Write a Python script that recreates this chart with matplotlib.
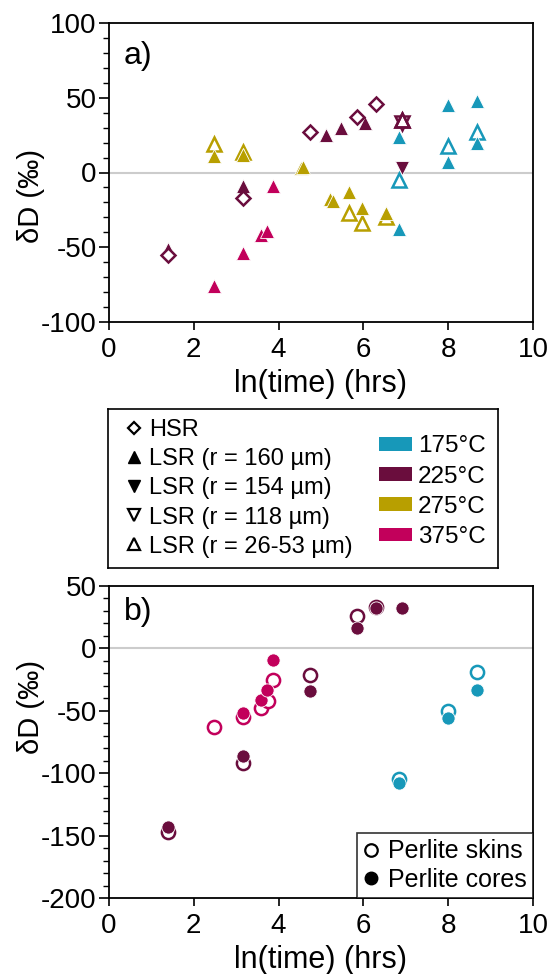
import numpy as np
import matplotlib
matplotlib.use('Agg')
import matplotlib.pyplot as plt
from matplotlib.lines import Line2D
from matplotlib.patches import Patch
from matplotlib.ticker import MultipleLocator

plt.rcParams['font.family'] = ['Liberation Sans', 'DejaVu Sans']
plt.rcParams['axes.unicode_minus'] = False

#temperature colours
temps = ['175°C', '225°C', '275°C', '375°C']
cols = {'175°C': '#1798b9', '225°C': '#6a0d3d', '275°C': '#b89f00', '375°C': '#c2005b'}

#panel a) HSR (open diamonds), all 225
hsr_225_x = [1.38, 3.16, 4.75, 5.86, 6.29]
hsr_225_y = [-55, -17, 27, 37, 46]

#LSR r = 160 um (filled up triangles)
lsr160_175_x = [6.84, 6.84, 8.0, 8.0, 8.69, 8.69]
lsr160_175_y = [24, -38, 45, 7, 48, 20]
lsr160_225_x = [1.38, 3.16, 5.11, 5.47, 6.03]
lsr160_225_y = [-51, -9, 25, 30, 33]
lsr160_275_x = [2.48, 3.16, 4.52, 4.58, 5.22, 5.28, 5.66, 5.96, 6.53]
lsr160_275_y = [11, 12, 3, 4, -18, -19, -13, -24, -27]
lsr160_375_x = [2.48, 3.16, 3.58, 3.73, 3.86]
lsr160_375_y = [-76, -54, -42, -39, -9]

#LSR r = 154 um (filled down triangle)
lsr154_225_x = [6.91]
lsr154_225_y = [3]

#LSR r = 118 um (open down triangle)
lsr118_225_x = [6.9]
lsr118_225_y = [33]

#LSR r = 26-53 um (open up triangles)
lsr2653_175_x = [6.84, 8.0, 8.69]
lsr2653_175_y = [-5, 18, 27]
lsr2653_225_x = [6.9]
lsr2653_225_y = [35]
lsr2653_275_x = [2.48, 3.16, 5.66, 5.96, 6.53]
lsr2653_275_y = [19, 14, -27, -34, -30]

#panel b) perlite skins (open) and cores (filled)
skin_175_x = [6.84, 8.0, 8.69]
skin_175_y = [-105, -50, -19]
skin_225_x = [1.38, 3.16, 4.75, 5.86, 6.29]
skin_225_y = [-147, -92, -21, 26, 33]
skin_375_x = [2.48, 3.16, 3.58, 3.75, 3.86]
skin_375_y = [-63, -55, -48, -42, -25]

core_175_x = [6.84, 8.0, 8.69]
core_175_y = [-108, -56, -33]
core_225_x = [1.38, 3.16, 4.75, 5.86, 6.29, 6.91]
core_225_y = [-143, -86, -34, 16, 32, 32]
core_375_x = [3.16, 3.58, 3.73, 3.86]
core_375_y = [-52, -41, -33, -9]

fig = plt.figure(figsize=(5.53, 9.74), dpi=100)
W, H = 553.0, 974.0
ax1 = fig.add_axes([109/W, 1-322/H, 424/W, 299/H])
ax2 = fig.add_axes([109/W, 1-898/H, 424/W, 312/H])

ms = 9.5

def filled(ax, x, y, m, c, s=ms):
    ax.plot(x, y, ls='none', marker=m, ms=s, color=c, mec='white', mew=0.6)

def hollow(ax, x, y, m, c, s=ms):
    ax.plot(x, y, ls='none', marker=m, ms=s, mfc='white', mec=c, mew=1.8)

# panel a
ax1.axhline(0, color='#cccccc', lw=1.5, zorder=0)
hollow(ax1, lsr2653_275_x, lsr2653_275_y, '^', cols['275°C'], ms+1)
hollow(ax1, lsr2653_175_x, lsr2653_175_y, '^', cols['175°C'], ms+1)
filled(ax1, lsr160_175_x, lsr160_175_y, '^', cols['175°C'])
filled(ax1, lsr160_225_x, lsr160_225_y, '^', cols['225°C'])
filled(ax1, lsr160_275_x, lsr160_275_y, '^', cols['275°C'])
filled(ax1, lsr160_375_x, lsr160_375_y, '^', cols['375°C'])
filled(ax1, lsr154_225_x, lsr154_225_y, 'v', cols['225°C'])
hollow(ax1, lsr118_225_x, lsr118_225_y, 'v', cols['225°C'])
hollow(ax1, lsr2653_225_x, lsr2653_225_y, '^', cols['225°C'])
ax1.plot(lsr2653_225_x, lsr2653_225_y, ls='none', marker='^', ms=ms, mfc='none', mec=cols['225°C'], mew=1.8)
hollow(ax1, hsr_225_x, hsr_225_y, 'D', cols['225°C'], 7.5)

ax1.set_xlim(0, 10)
ax1.set_ylim(-100, 100)
ax1.yaxis.set_major_locator(MultipleLocator(50))
ax1.yaxis.set_minor_locator(MultipleLocator(10))
ax1.text(0.035, 0.94, 'a)', transform=ax1.transAxes, fontsize=23, va='top')
ax1.set_ylabel('δD (‰)', fontsize=21)
ax1.yaxis.set_label_coords(-0.151, 0.42)
ax1.set_xlabel('ln(time) (hrs)', fontsize=22, labelpad=4)

# panel b
ax2.axhline(0, color='#cccccc', lw=1.5, zorder=0)
hollow(ax2, skin_225_x, skin_225_y, 'o', cols['225°C'])
hollow(ax2, skin_375_x, skin_375_y, 'o', cols['375°C'])
hollow(ax2, skin_175_x, skin_175_y, 'o', cols['175°C'])
filled(ax2, core_225_x, core_225_y, 'o', cols['225°C'])
filled(ax2, core_375_x, core_375_y, 'o', cols['375°C'])
filled(ax2, core_175_x, core_175_y, 'o', cols['175°C'])

ax2.set_xlim(0, 10)
ax2.set_ylim(-200, 50)
ax2.yaxis.set_major_locator(MultipleLocator(50))
ax2.yaxis.set_minor_locator(MultipleLocator(10))
ax2.text(0.035, 0.965, 'b)', transform=ax2.transAxes, fontsize=23, va='top')
ax2.set_ylabel('δD (‰)', fontsize=21)
ax2.yaxis.set_label_coords(-0.151, 0.612)
ax2.set_xlabel('ln(time) (hrs)', fontsize=22, labelpad=4)

b_handles = [Line2D([], [], ls='none', marker='o', ms=9, mfc='white', mec='black', mew=1.6),
             Line2D([], [], ls='none', marker='o', ms=9, color='black')]
lg = ax2.legend(b_handles, ['Perlite skins', 'Perlite cores'], loc='lower right',
                fontsize=18, frameon=True, fancybox=False, borderaxespad=0,
                handlelength=0.6, handletextpad=0.4, labelspacing=0.18, borderpad=0.25)
lg.get_frame().set_edgecolor('black')
lg.get_frame().set_linewidth(1.2)

for ax in (ax1, ax2):
    ax.xaxis.set_major_locator(MultipleLocator(2))
    ax.tick_params(axis='both', which='major', direction='out', length=6, width=1.2, labelsize=20, pad=2)
    ax.tick_params(axis='x', which='major', pad=5)
    ax.tick_params(axis='y', which='minor', direction='out', length=4, width=1.0)
    ax.tick_params(axis='y', which='major', length=7)
    for s in ax.spines.values():
        s.set_linewidth(1.3)

# shared legend box between panels
axl = fig.add_axes([108/W, 1-568/H, 390/W, 159/H])
axl.set_xticks([])
axl.set_yticks([])
for s in axl.spines.values():
    s.set_linewidth(1.2)
m_handles = [Line2D([], [], ls='none', marker='D', ms=6, mfc='white', mec='black', mew=1.6),
             Line2D([], [], ls='none', marker='^', ms=8, color='black'),
             Line2D([], [], ls='none', marker='v', ms=8, color='black'),
             Line2D([], [], ls='none', marker='v', ms=8, mfc='white', mec='black', mew=1.6),
             Line2D([], [], ls='none', marker='^', ms=8, mfc='white', mec='black', mew=1.6)]
m_labels = ['HSR', 'LSR (r = 160 µm)', 'LSR (r = 154 µm)', 'LSR (r = 118 µm)', 'LSR (r = 26-53 µm)']
lg1 = axl.legend(m_handles, m_labels, loc='center left', bbox_to_anchor=(0.0, 0.5),
                 frameon=False, fontsize=17, handlelength=0.6, handletextpad=0.35,
                 labelspacing=0.3, borderaxespad=0.4)
axl.add_artist(lg1)
t_handles = [Patch(facecolor=cols[t], edgecolor='none') for t in temps]
axl.legend(t_handles, temps, loc='center left', bbox_to_anchor=(0.67, 0.48),
           frameon=False, fontsize=17.5, handlelength=1.35, handleheight=0.5,
           handletextpad=0.25, labelspacing=0.34, borderaxespad=0)

fig.savefig('out.png', dpi=100)
